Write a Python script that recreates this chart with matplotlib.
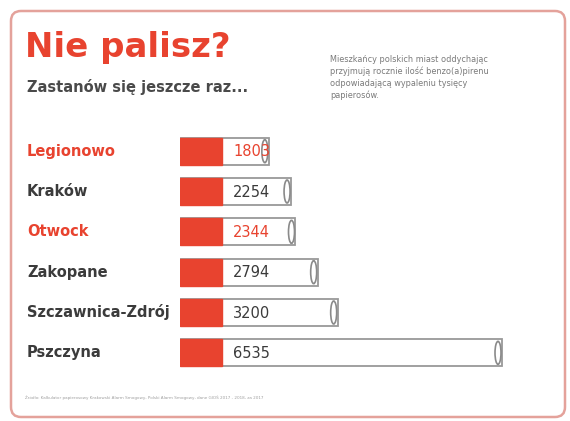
import matplotlib.pyplot as plt
import matplotlib.transforms as mtransforms
from matplotlib.patches import FancyBboxPatch, Rectangle, Ellipse

# --- dane ---
cities = ["Legionowo", "Kraków", "Otwock", "Zakopane", "Szczawnica-Zdrój", "Pszczyna"]
cigarettes = [1803, 2254, 2344, 2794, 3200, 6535]
highlight = [True, False, True, False, False, False]

RED = "#e8432f"
DARK = "#3b3b3b"
GRAY = "#8a8a8a"

W, H = 570, 421
fig = plt.figure(figsize=(W / 100, H / 100), dpi=100)
fig.patch.set_facecolor("white")

# tło / karta w pikselach
bg = fig.add_axes([0, 0, 1, 1])
bg.set_xlim(0, W)
bg.set_ylim(H, 0)
bg.axis("off")
card = FancyBboxPatch((11, 11), 554, 406, boxstyle="round,pad=0,rounding_size=10",
                      facecolor="white", edgecolor="#e4a29b", linewidth=1.8)
bg.add_patch(card)

font = ["DejaVu Sans"]
bg.text(25, 47, "Nie palisz?", color=RED, fontsize=24.5, fontweight="bold",
        family=font, va="center", ha="left")
bg.text(27, 87, "Zastanów się jeszcze raz...", color="#4a4a4a", fontsize=10.5,
        fontweight="bold", family=font, va="center", ha="left")
bg.text(330, 55, "Mieszkańcy polskich miast oddychając\nprzyjmują rocznie ilość benzo(a)pirenu\n"
        "odpowiadającą wypaleniu tysięcy\npapierosów.",
        color="#7a7a7a", fontsize=5.9, family=font, va="top", ha="left", linespacing=1.35)
bg.text(25, 398, "Źródło: Kalkulator papierosowy Krakowski Alarm Smogowy, Polski Alarm Smogowy, "
        "dane GIOŚ 2017 - 2018, za 2017",
        color="#a0a0a0", fontsize=3.0, family=font, va="center", ha="left")

# --- wykres papierosów ---
x0, x1 = 180, 530
y_top, y_bot = 131, 373
ax = fig.add_axes([x0 / W, 1 - y_bot / H, (x1 - x0) / W, (y_bot - y_top) / H])
xmax = 6535 * (x1 - x0) / 322
ax.set_xlim(0, xmax)
ax.set_ylim(len(cities) - 0.5, -0.5)
ax.axis("off")

px = xmax / (x1 - x0)          # jednostki danych na piksel
filter_w = 42 * px
bar_h = 0.67

for i, (city, val, hl) in enumerate(zip(cities, cigarettes, highlight)):
    # biały korpus
    ax.add_patch(Rectangle((0, i - bar_h / 2), val, bar_h, facecolor="white",
                           edgecolor="#999999", linewidth=1.3, zorder=2))
    # filtr
    ax.add_patch(Rectangle((0, i - bar_h / 2), filter_w, bar_h, facecolor=RED,
                           edgecolor=RED, linewidth=1.0, zorder=3))
    # koniec papierosa
    ax.add_patch(Ellipse((val - 4 * px, i), 6 * px, bar_h * 0.85, facecolor="white",
                         edgecolor=GRAY, linewidth=1.2, zorder=4))
    ax.text(filter_w + 11 * px, i + 0.02, str(val), color=RED if hl else DARK,
            fontsize=10.5, family=font, va="center", ha="left", zorder=5)

lab_tr = mtransforms.blended_transform_factory(fig.transFigure, ax.transData)
for i, (city, hl) in enumerate(zip(cities, highlight)):
    ax.text(27 / W, i, city, transform=lab_tr, color=RED if hl else DARK,
            fontsize=10.5, fontweight="bold", family=font, va="center", ha="left")

fig.savefig("out.png", dpi=100)
